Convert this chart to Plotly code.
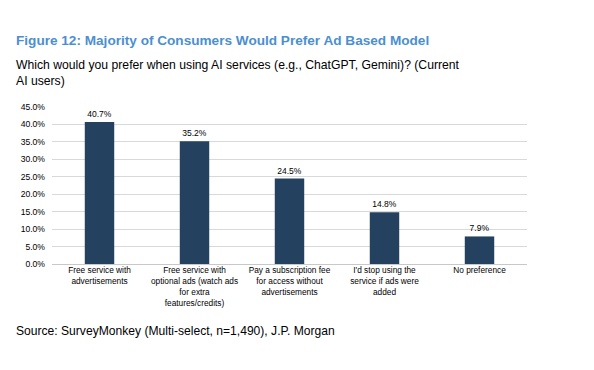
import plotly.graph_objects as go

categories = [
    "Free service with<br>advertisements",
    "Free service with<br>optional ads (watch ads<br>for extra<br>features/credits)",
    "Pay a subscription fee<br>for access without<br>advertisements",
    "I'd stop using the<br>service if ads were<br>added",
    "No preference",
]
values = [40.7, 35.2, 24.5, 14.8, 7.9]
value_labels = ["40.7%", "35.2%", "24.5%", "14.8%", "7.9%"]
y_ticks = [0, 5, 10, 15, 20, 25, 30, 35, 40, 45]
y_tick_labels = ["0.0%", "5.0%", "10.0%", "15.0%", "20.0%", "25.0%", "30.0%", "35.0%", "40.0%", "45.0%"]

title_text = "Figure 12: Majority of Consumers Would Prefer Ad Based Model"
subtitle_text = "Which would you prefer when using AI services (e.g., ChatGPT, Gemini)? (Current<br>AI users)"
source_text = "Source: SurveyMonkey (Multi-select, n=1,490), J.P. Morgan"

OFF = 8  # page body margin
W, H = 594 - OFF, 370 - OFF
L, R, T, B = 52 - OFF, 527 - OFF, 107 - OFF, 264 - OFF

def py(y):
    return (B - (y - OFF)) / (B - T)

def px(x):
    return ((x - OFF) - L) / (R - L)

arial = "Liberation Sans, Arial, sans-serif"

fig = go.Figure(go.Bar(
    x=categories, y=values, text=value_labels, textposition="outside",
    textfont=dict(family=arial, size=8.5, color="#000000"),
    marker=dict(color="#24425f", line=dict(width=0)),
    cliponaxis=False,
))

fig.update_layout(
    width=W, height=H,
    margin=dict(l=L, r=W - R, t=T, b=H - B, pad=0),
    paper_bgcolor="white", plot_bgcolor="white",
    bargap=0.69, showlegend=False,
    xaxis=dict(tickfont=dict(family=arial, size=8.3, color="#000000"), showgrid=False,
               showline=False, ticks=""),
    yaxis=dict(range=[0, 45], tickvals=y_ticks, ticktext=y_tick_labels,
               tickfont=dict(family=arial, size=8.6, color="#000000"),
               showgrid=True, gridcolor="#d9d9d9", gridwidth=1,
               zeroline=True, zerolinecolor="#c8c8c8", zerolinewidth=1,
               showline=False, ticks="", ticklabelstandoff=6),
    annotations=[
        dict(text="<b>" + title_text + "</b>", x=px(14), y=py(40), xref="paper", yref="paper",
             xanchor="left", yanchor="middle", showarrow=False,
             font=dict(family=arial, size=13.6, color="#4b8fd1")),
        dict(text=subtitle_text, x=px(14), y=py(73), xref="paper", yref="paper",
             xanchor="left", yanchor="middle", showarrow=False, align="left",
             font=dict(family=arial, size=12.2, color="#000000")),
        dict(text=source_text, x=px(14), y=py(331), xref="paper", yref="paper",
             xanchor="left", yanchor="middle", showarrow=False, align="left",
             font=dict(family=arial, size=12.1, color="#000000")),
    ],
)

fig.write_html("out.html")
